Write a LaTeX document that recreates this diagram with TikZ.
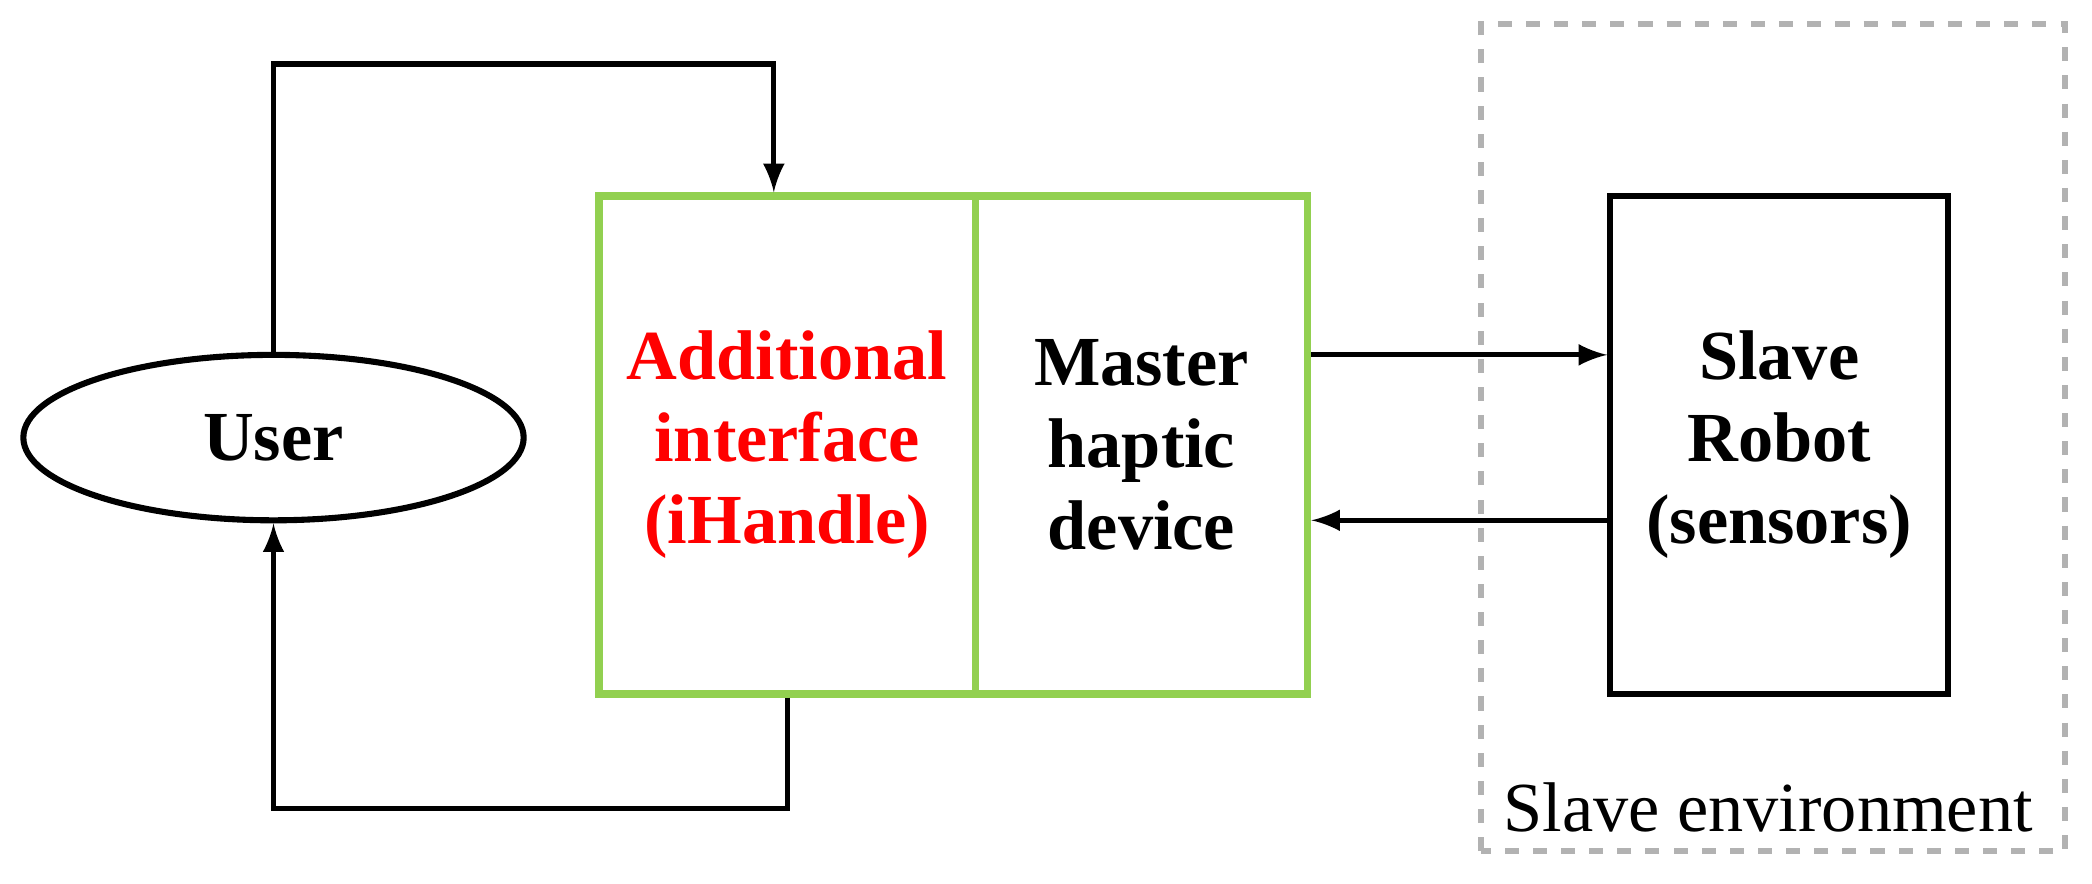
\documentclass[tikz,border=0pt]{standalone}
\usepackage{fontspec}
\setmainfont{Liberation Serif}
\usetikzlibrary{shapes.geometric}
\definecolor{lgreen}{RGB}{146,208,80}
\begin{document}
\begin{tikzpicture}[
        blk/.style={draw, line width=1.3pt, minimum width=2.53cm, minimum height=3.73cm, inner sep=0pt},
        gblk/.style={draw=lgreen, line width=1.6pt, minimum height=3.73cm, inner sep=0pt},
        lbl/.style={font=\fontsize{15}{17.5}\selectfont\bfseries, align=center},
        arr/.style={-latex, line width=1.1pt}
    ]
    \useasboundingbox (0,0) rectangle (15.68,6.62);
    % slave side
    \draw[gray!60, dashed, line width=1.3pt] (11.10,0.24) rectangle (15.48,6.44);
    \node[anchor=south east, font=\fontsize{15}{18}\selectfont] (env) at (15.36,0.26) {Slave environment};
    \node[blk, lbl] (slave) at (13.335,3.285) {Slave\\Robot\\(sensors)};
    % master side
    \node[gblk, minimum width=2.82cm, lbl, text=red] (add) at (5.90,3.285) {Additional\\interface\\(iHandle)};
    \node[gblk, minimum width=2.49cm, lbl] (mst) at (8.555,3.285) {Master\\haptic\\device};
    % user
    \node[ellipse, draw, line width=1.3pt, minimum width=3.75cm, minimum height=1.24cm, lbl] (user) at (2.05,3.34) {User};
    % connectors
    \coordinate (t1) at (2.05,6.14);
    \coordinate (t2) at (5.80,6.14);
    \coordinate (b1) at (5.90,0.56);
    \coordinate (b2) at (2.05,0.56);
    \draw[arr] (user.north) -- (t1) -- (t2) -- (t2 |- add.north);
    \draw[arr] (b1 |- add.south) -- (b1) -- (b2) -- (user.south);
    \draw[arr] (mst.east |- 0,3.96) -- (slave.west |- 0,3.96);
    \draw[arr] (slave.west |- 0,2.72) -- (mst.east |- 0,2.72);
\end{tikzpicture}
\end{document}
